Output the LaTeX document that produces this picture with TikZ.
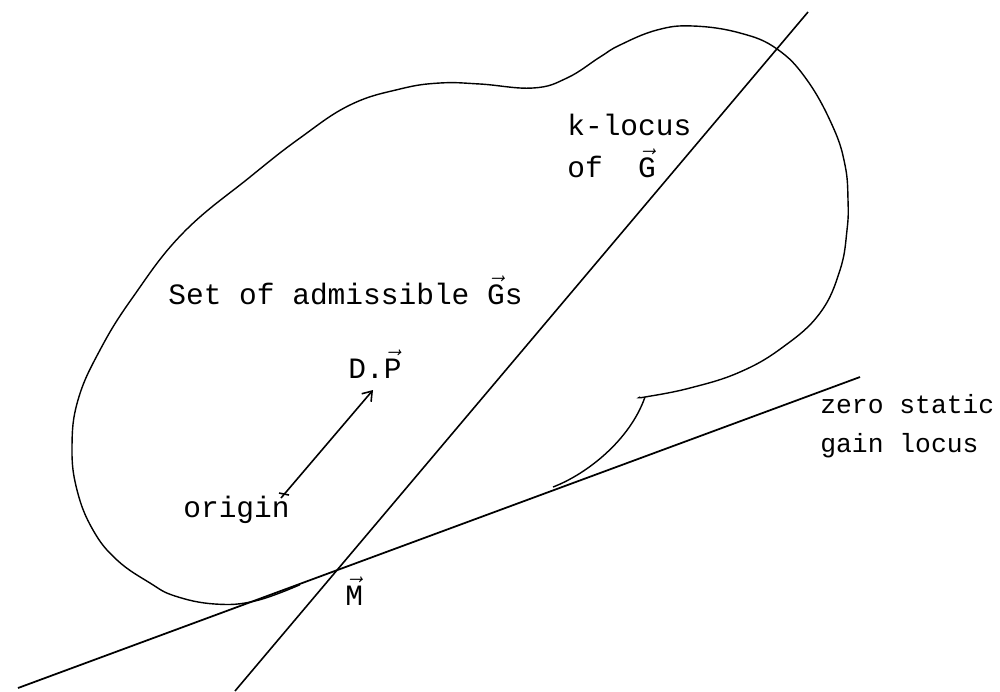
\documentclass[tikz,border=0pt]{standalone}
\usepackage{fontspec}
\newfontfamily\typew{Liberation Mono}
\usetikzlibrary{arrows.meta}
\newcommand{\vecl}[1]{\ensuremath{\vec{\mbox{#1}}}}
\begin{document}
\begin{tikzpicture}[x=0.02cm, y=-0.02cm,
	locus/.style={line width=1pt, black},
	blob/.style={line width=0.8pt, black},
	lbl/.style={anchor=base west, inner sep=0pt, font=\typew\fontsize{#1}{18}\selectfont},
	lbl/.default=16.8]
	\useasboundingbox (0,0) rectangle (1000,691);
	
	% the two straight loci
	\coordinate (zgA) at (18,688);
	\coordinate (zgB) at (860,377);
	\coordinate (kA) at (235,691);
	\coordinate (kB) at (808,12);
	\draw[locus] (zgA) -- (zgB);
	\draw[line width=0.9pt] (kA) -- (kB);
	
	% boundary of the admissible set
	\draw[blob] plot[smooth, tension=0.7] coordinates {(300,584.7) (255,601) (215,604) (175,596) (150,583) (117,560) (93,530) (77,490) (72,447) (78,400) (100,350) (133,297) (183,233) (250,177) (300,138) (350,105) (400,89) (440,83) (480,84) (533,88) (567,78) (600,57) (620,45) (657,30) (693,26) (740,33) (777,49) (807,80) (833,127) (845,165) (848,200) (847,230) (840,270) (820,313) (783,347) (740,372) (690,388) (645,397) (640,397)};
	\coordinate (notch) at (645,397);
	\coordinate (touch) at (553,487);
	\draw[blob] (notch) .. controls (630,440) and (587,474) .. (touch);
	
	% origin and D.P
	\coordinate (orig) at (284,494);
	\coordinate (dp) at (373,390);
	\draw[line width=0.9pt] (orig) +(-5,-1) -- +(5,1);
	\draw[line width=0.9pt, -{Straight Barb[length=5pt, width=7pt]}] (orig) ++(-3,4) -- (dp);
	
	% labels
	\node[lbl] (lset) at (168,304) {Set of admissible \vecl{G}s};
	\node[lbl] (ldp) at (348,378) {D.\vecl{P}};
	\node[lbl] (lorig) at (183,517) {origin};
	\node[lbl] (lm) at (345,605) {\vecl{M}};
	\node[lbl] (lk1) at (567,135) {k-locus};
	\node[lbl] (lk2) at (567,177) {of\ \ \vecl{G}};
	\node[lbl=15] (lz1) at (820,413) {zero static};
	\node[lbl=15] (lz2) at (820,452) {gain locus};
\end{tikzpicture}
\end{document}
